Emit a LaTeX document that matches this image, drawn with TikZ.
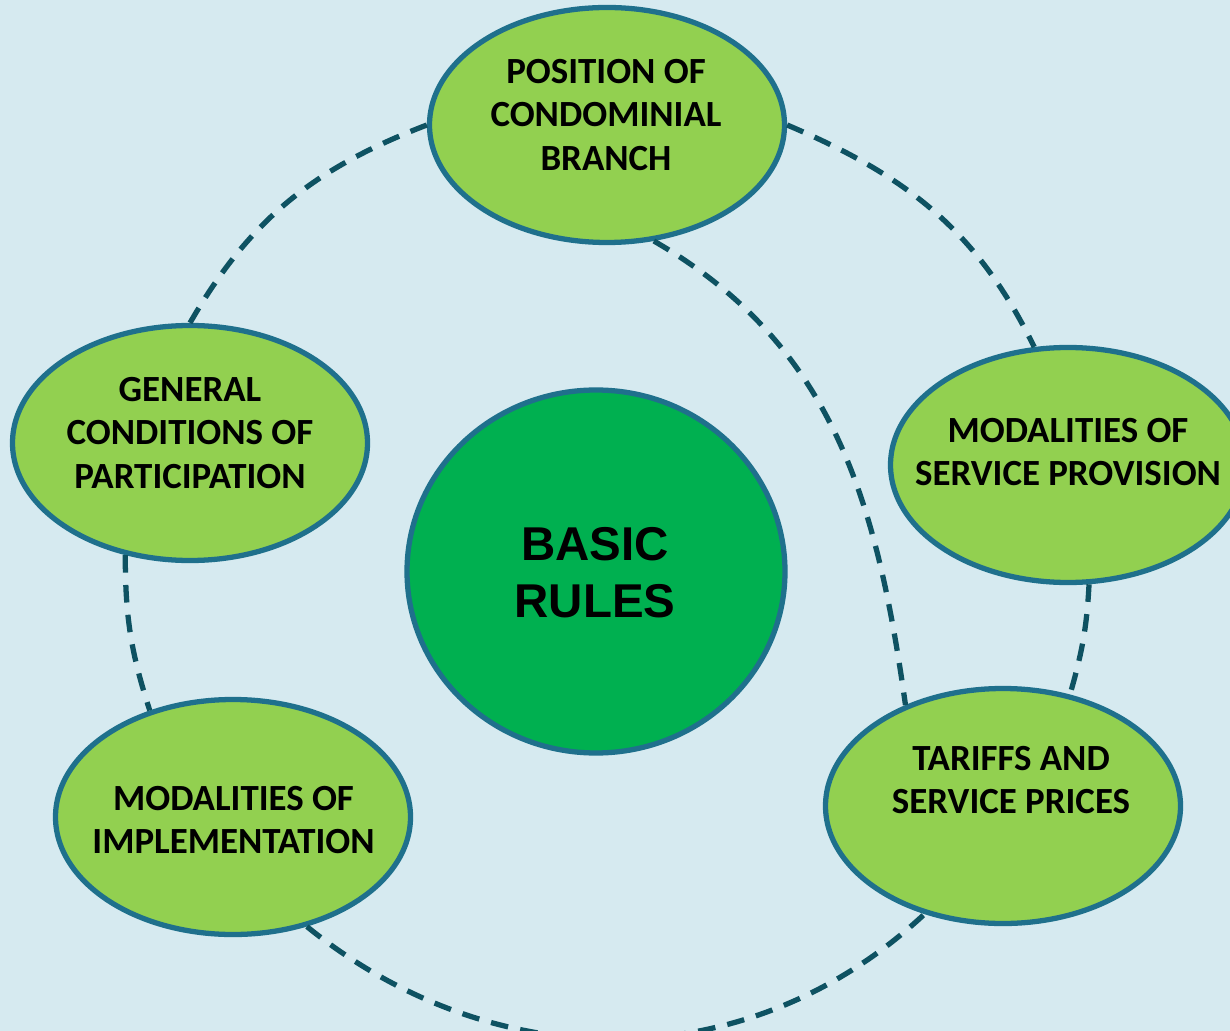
\documentclass[tikz,border=0pt]{standalone}
\usepackage{fontspec}
\setmainfont{Carlito}
\newfontfamily\hubfont{Liberation Sans}
\usetikzlibrary{shapes.geometric}

\definecolor{drops}{RGB}{214,234,240}
\definecolor{leaf}{RGB}{146,208,80}
\definecolor{core}{RGB}{0,176,80}
\definecolor{rim}{RGB}{31,112,140}
\definecolor{dashline}{RGB}{14,82,98}

\begin{document}
\begin{tikzpicture}[bubble/.style = {ellipse, draw = rim, line width = 3pt, fill = leaf, minimum width = 7.1cm, minimum height = 4.7cm, inner sep = 0pt}, hub/.style = {ellipse, draw = rim, line width = 3pt, fill = core, minimum width = 7.56cm, minimum height = 7.26cm, inner sep = 0pt}, caption/.style = {align = center, font = \fontsize{21}{24.8}\selectfont\bfseries, text = black}, link/.style = {draw = dashline, line width = 3pt, dash pattern = on 10pt off 7pt}]
	\useasboundingbox (0,0) rectangle (24.6,-20.62);
	\fill[drops] (0,0) rectangle (24.6,-20.62);
	\node[bubble] (pos) at (12.14,-2.5) {};
	\node[bubble] (gen) at (3.8,-8.86) {};
	\node[bubble] (serv) at (21.36,-9.3) {};
	\node[bubble] (tar) at (20.06,-16.12) {};
	\node[bubble] (impl) at (4.66,-16.34) {};
	\node[hub] (basic) at (11.92,-11.43) {};
	\node[caption] (posText) at (12.12,-2.3) {POSITION OF\\CONDOMINIAL\\BRANCH};
	\node[caption] (genText) at (3.8,-8.66) {GENERAL\\CONDITIONS OF\\PARTICIPATION};
	\node[caption] (servText) at (21.36,-9.04) {MODALITIES OF\\SERVICE PROVISION};
	\node[caption] (tarText) at (20.22,-15.6) {TARIFFS AND\\SERVICE PRICES};
	\node[caption] (implText) at (4.67,-16.4) {MODALITIES OF\\IMPLEMENTATION};
	\node[align = center, font = \hubfont\fontsize{27}{32.5}\selectfont\bfseries] (basicText) at (11.9,-11.45) {BASIC\\RULES};
	\draw[link] (pos.180) to[out=201, in=60] (gen.90);
	\draw[link] (pos.0) to[out=-23, in=116] (serv.106);
	\draw[link] (serv.-80) to[out=-93, in=74] (tar.59);
	\draw[link] (gen.-120) to[out=-90, in=108] (impl.128);
	\draw[link] (impl.-56) to[out=-39, in=-137] (tar.-126);
	\draw[link] (pos.-68) to[out=-30, in=98] (tar.134);
\end{tikzpicture}
\end{document}
